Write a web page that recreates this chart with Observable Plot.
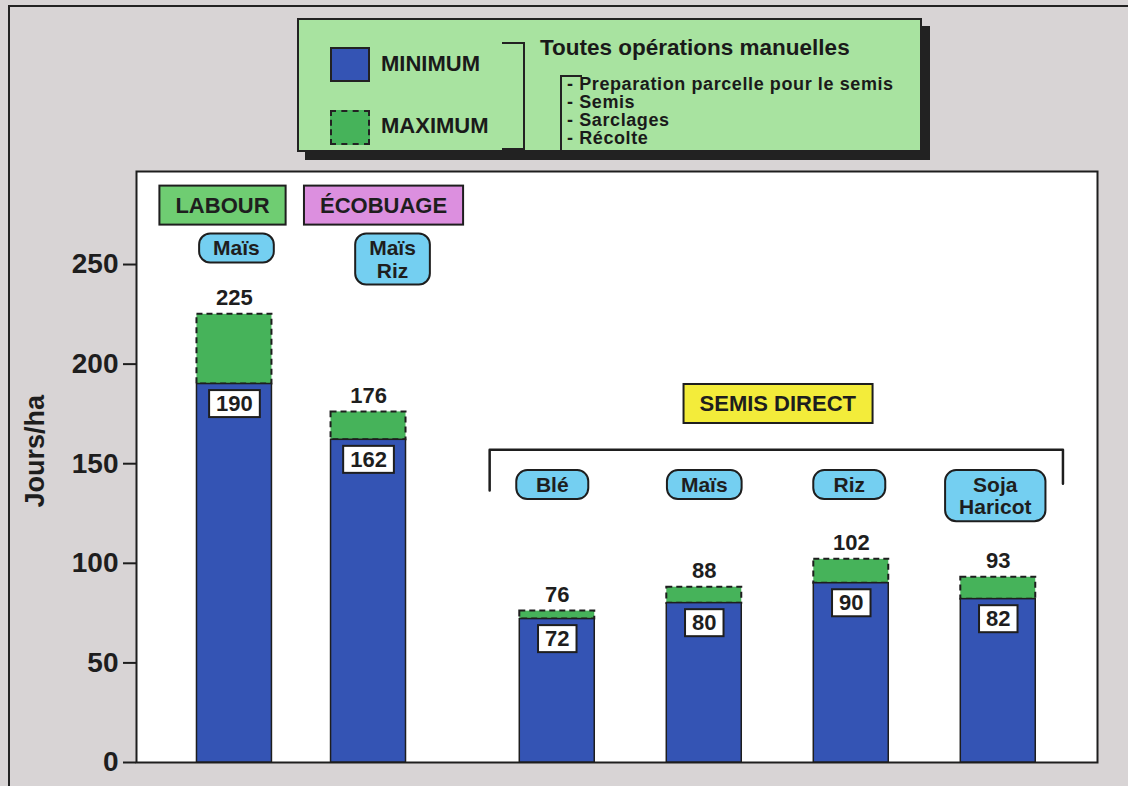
<!DOCTYPE html>
<html>
<head>
<meta charset="utf-8">
<script src="https://cdn.jsdelivr.net/npm/d3@7"></script>
<script src="https://cdn.jsdelivr.net/npm/@observablehq/plot@0.6"></script>
<style>
  html, body { margin: 0; padding: 0; }
  body { font-family: "Liberation Sans", Arial, sans-serif; color: #1a1a1a; }
  #wrap { position: relative; width: 1128px; height: 786px; background: #d8d4d5; overflow: hidden; }
  #frame { position: absolute; left: 8px; top: 5px; width: 1200px; height: 900px; border-left: 2px solid #222; border-top: 2px solid #222; }
  #chart { position: absolute; left: 0; top: 0; }
  #legend { position: absolute; left: 297px; top: 18px; width: 621px; height: 130px; background: #a8e3a0; border: 2px solid #222; box-shadow: 8px 8px 0 #222; font-weight: bold; }
  #legend .sw { position: absolute; left: 31px; width: 36px; height: 31px; }
  #legend .lab { position: absolute; left: 82px; font-size: 22px; line-height: 24px; }
  #legend .br1 { position: absolute; left: 203px; top: 22px; width: 21px; height: 104px; border: 2px solid #222; border-left: none; }
  #legend .br2 { position: absolute; left: 261px; top: 55px; width: 20px; height: 73px; border: 2px solid #222; border-right: none; }
  #legend .title { position: absolute; left: 241px; top: 15px; font-size: 22.5px; line-height: 26px; white-space: nowrap; }
  #legend .items { position: absolute; left: 268px; top: 55px; font-size: 18px; letter-spacing: 0.6px; line-height: 18px; white-space: nowrap; }
  svg g[aria-label="y-axis tick label"] text { font-weight: bold; }
</style>
</head>
<body>
<div id="wrap">
  <div id="frame"></div>
  <div id="chart"></div>
  <div id="legend">
    <div class="sw" style="top:27px;background:#3454b4;border:2px solid #222;"></div>
    <div class="lab" style="top:32px;">MINIMUM</div>
    <div class="sw" style="top:90px;background:#46b35a;border:2px dashed #222;"></div>
    <div class="lab" style="top:94px;">MAXIMUM</div>
    <div class="br1"></div>
    <div class="title">Toutes opérations manuelles</div>
    <div class="br2"></div>
    <div class="items">- Preparation parcelle pour le semis<br>- Semis<br>- Sarclages<br>- Récolte</div>
  </div>
</div>
<script>
// ---- data ----
const systems = ["Labour", "Écobuage", "Semis direct", "Semis direct", "Semis direct", "Semis direct"];
const crops = ["Maïs", "Maïs\nRiz", "Blé", "Maïs", "Riz", "Soja\nHaricot"];
const minimum = [190, 162, 72, 80, 90, 82];
const maximum = [225, 176, 76, 88, 102, 93];
const yTicks = [0, 50, 100, 150, 200, 250];
const systemLabels = ["LABOUR", "ÉCOBUAGE", "SEMIS DIRECT"];
const systemKeys = ["Labour", "Écobuage", "Semis direct"];
const yLabel = "Jours/ha";

// ---- layout helpers ----
const BLUE = "#3454b4", GREEN = "#46b35a", INK = "#1e1e1e";
const systemFill = {"Labour": "#6fcd72", "Écobuage": "#dc8fdf", "Semis direct": "#f3ec3a"};
const GAP = 0.24;      // extra space before the semis direct group (slot units)
const TSTEP = 0.912;   // slot step inside the tillage group
const HW = 0.255;      // half bar width (slot units)
const PX = 1 / 147;    // one pixel in slot units
const tagShift = [2, 24, -5, 0, -2, -3];               // crop tag nudges (px)
const sysShift = {"Labour": -12, "Écobuage": 15, "Semis direct": 0};

const slot = (sys, i) => sys === "Semis direct" ? i + GAP : 0.5 + (i - 0.5) * TSTEP;

const data = crops.map((c, i) => ({
  system: systems[i],
  crop: c,
  min: minimum[i],
  max: maximum[i],
  pos: slot(systems[i], i),
  tagPos: slot(systems[i], i) + tagShift[i] * PX
}));

const semis = data.filter(d => d.system === "Semis direct");
const sMin = d3.min(semis, d => d.pos), sMax = d3.max(semis, d => d.pos);

const sysLabelData = systemKeys.map((k, i) => {
  const rows = data.filter(d => d.system === k);
  return {
    key: k,
    label: systemLabels[i],
    pos: d3.mean(rows, d => d.pos) + sysShift[k] * PX,
    y: k === "Semis direct" ? 180 : 279.6
  };
});

const bracket = [
  {x: sMin - 0.46, y: 136.5},
  {x: sMin - 0.46, y: 157},
  {x: sMax + 0.44, y: 157},
  {x: sMax + 0.44, y: 140}
];

const plot = Plot.plot({
  width: 1128,
  height: 786,
  marginLeft: 136,
  marginRight: 31,
  marginTop: 171,
  marginBottom: 24,
  style: {background: "transparent", fontFamily: "'Liberation Sans', Arial, sans-serif", color: INK, overflow: "visible"},
  x: {type: "linear", domain: [-0.6224, 5.915], axis: null},
  y: {domain: [0, 296.7], axis: null},
  marks: [
    Plot.frame({fill: "white", stroke: INK, strokeWidth: 2}),
    Plot.axisY({ticks: yTicks, tickSize: 13, tickPadding: 5, fontSize: 28, fontWeight: "bold", strokeWidth: 2, label: null}),
    Plot.text([yLabel], {frameAnchor: "left", y: () => 128, dx: -101, rotate: -90, fontSize: 27, fontWeight: "bold", fill: INK}),
    Plot.rectY(data, {x1: d => d.pos - HW, x2: d => d.pos + HW, y1: "min", y2: "max", fill: GREEN, stroke: INK, strokeWidth: 2, strokeDasharray: "6,4"}),
    Plot.rectY(data, {x1: d => d.pos - HW, x2: d => d.pos + HW, y1: 0, y2: "min", fill: BLUE, stroke: INK, strokeWidth: 1.5}),
    Plot.text(data, {x: "pos", y: "max", text: d => String(d.max), dy: -16, fontSize: 22, fontWeight: "bold", fill: INK}),
    Plot.text(data, {x: "pos", y: "min", text: d => String(d.min), dy: 20, fontSize: 22, fontWeight: "bold", fill: INK, className: "valbox"}),
    Plot.line(bracket, {x: "x", y: "y", stroke: INK, strokeWidth: 2.5}),
    Plot.text(sysLabelData, {x: "pos", y: "y", text: "label", fontSize: 22, fontWeight: "bold", fill: INK, className: "sysbox"}),
    Plot.text(data, {x: "tagPos", y: d => d.system === "Semis direct" ? 143.6 : 262.4,
      text: "crop", lineAnchor: "top", lineHeight: 1.05, fontSize: 21, fontWeight: "bold", fill: INK, className: "croptag"})
  ]
});

document.getElementById("chart").appendChild(plot);

// find the group of a text mark: by class, else by its order among text marks
function findGroup(cls, idx) {
  const g = plot.querySelector(`g.${cls}`);
  if (g) return g;
  const groups = Array.from(plot.querySelectorAll("g")).filter(el =>
    el.getAttribute("aria-label") === "text");
  return groups[idx];
}

// draw boxes behind text, sized from the rendered text
function boxify(cls, idx, opts, fillFor) {
  const g = findGroup(cls, idx);
  if (!g) return;
  const texts = Array.from(g.querySelectorAll("text"));
  texts.forEach((t, i) => {
    const b = t.getBBox();
    let w = b.width + 2 * opts.padX;
    if (opts.minW) w = Math.max(w, opts.minW);
    const h = b.height + 2 * opts.padY;
    const cx = b.x + b.width / 2, cy = b.y + b.height / 2;
    const r = document.createElementNS("http://www.w3.org/2000/svg", "rect");
    r.setAttribute("x", cx - w / 2);
    r.setAttribute("y", cy - h / 2);
    r.setAttribute("width", w);
    r.setAttribute("height", h);
    r.setAttribute("rx", opts.rx || 0);
    r.setAttribute("fill", fillFor(i));
    r.setAttribute("stroke", INK);
    r.setAttribute("stroke-width", opts.sw || 2);
    if (t.getAttribute("transform")) r.setAttribute("transform", t.getAttribute("transform"));
    t.parentNode.insertBefore(r, t);
  });
}
// text marks order: 0 yLabel, 1 max values, 2 min values, 3 system labels, 4 crop tags
boxify("valbox", 2, {padX: 7, padY: 1, sw: 2}, () => "white");
boxify("sysbox", 3, {padX: 16, padY: 7, sw: 2}, i => systemFill[sysLabelData[i].key]);
boxify("croptag", 4, {padX: 14, padY: 3, minW: 72, rx: 11, sw: 2}, () => "#74cff1");
</script>
</body>
</html>
